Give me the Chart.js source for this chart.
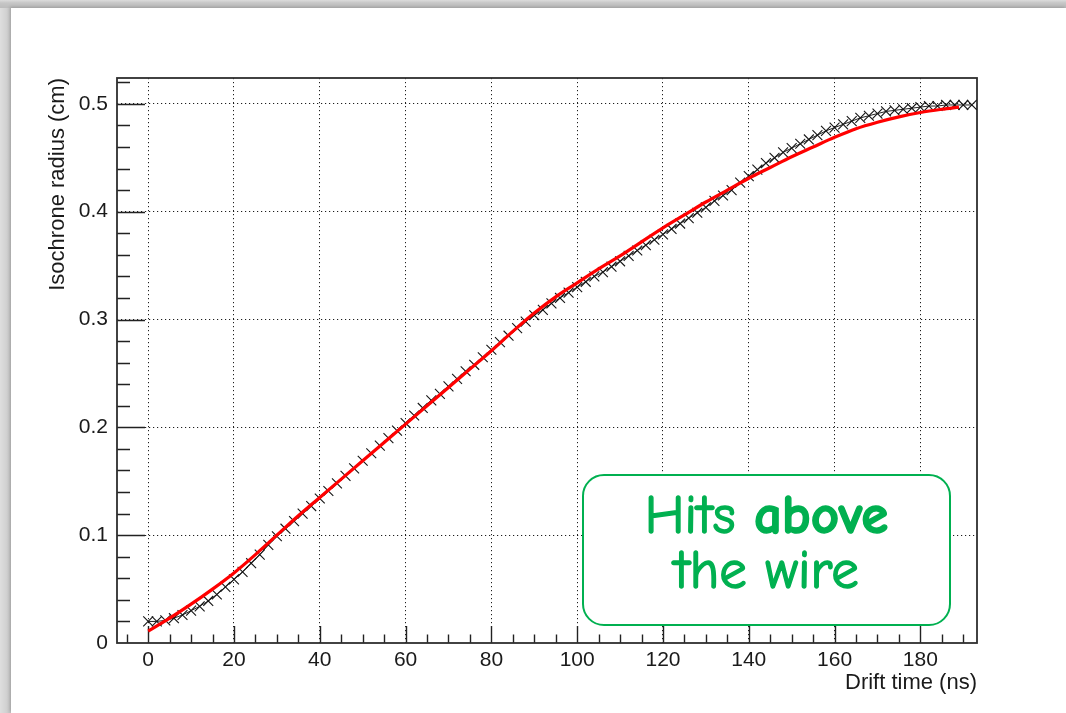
<!DOCTYPE html>
<html>
<head>
<meta charset="utf-8">
<title>Isochrone radius vs drift time</title>
<script src="https://cdn.jsdelivr.net/npm/chart.js@4.4.1/dist/chart.umd.min.js"></script>
<style>
  html, body { margin: 0; padding: 0; width: 1066px; height: 713px; overflow: hidden; }
  body { position: relative; background: linear-gradient(to right, #dedede 0px, #d2d2d2 6px, #c2c2c2 11px); }
  #topband { position: absolute; left: 0; top: 0; width: 1066px; height: 8px;
             background: linear-gradient(to bottom, #dcdcdc 0px, #c6c6c6 3px, #bcbcbc 8px); }
  #sheet { position: absolute; left: 11px; top: 8px; right: 0; bottom: 0; background: #ffffff;
           box-shadow: -1px -1px 3px rgba(0,0,0,0.18); }
  #plot { position: absolute; left: 0; top: 0; }
  #note { position: absolute; left: 582px; top: 474px; width: 369px; height: 152px;
          box-sizing: border-box; border: 2.5px solid #00b050; border-radius: 22px; background: #ffffff;
          color: #00b050; text-align: center; font-family: "Comic Sans MS", "Comic Neue", Lato, sans-serif;
          font-size: 55px; line-height: 55px; padding-top: 12px;
          -webkit-text-stroke: 1.4px #00b050; }
  #note b { font-weight: 700; }
</style>
</head>
<body>
<div id="topband"></div>
<div id="sheet"></div>
<canvas id="plot" width="1066" height="713"></canvas>
<div id="note">Hits <b>above</b><br>the wire</div>
<script>
// Measured isochrone radius per drift-time bin (ns, cm)
const driftTime = [
  0, 2, 4, 6, 8, 10, 12, 14, 16, 18, 20, 22, 24, 26, 28, 30, 32, 34, 36, 38,
  40, 42, 44, 46, 48, 50, 52, 54, 56, 58, 60, 62, 64, 66, 68, 70, 72, 74, 76, 78,
  80, 82, 84, 86, 88, 90, 92, 94, 96, 98, 100, 102, 104, 106, 108, 110, 112, 114, 116, 118,
  120, 122, 124, 126, 128, 130, 132, 134, 136, 138, 140, 142, 144, 146, 148, 150, 152, 154, 156, 158,
  160, 162, 164, 166, 168, 170, 172, 174, 176, 178, 180, 182, 184, 186, 188, 190, 192
];
const isochroneRadius = [
  0.020, 0.020, 0.021, 0.023, 0.026, 0.030, 0.034, 0.039, 0.045, 0.052,
  0.059, 0.066, 0.074, 0.082, 0.091, 0.099, 0.106, 0.113, 0.120, 0.127,
  0.134, 0.141, 0.148, 0.155, 0.162, 0.169, 0.176, 0.183, 0.190, 0.197,
  0.204, 0.211, 0.218, 0.225, 0.231, 0.238, 0.245, 0.252, 0.258, 0.265,
  0.272, 0.279, 0.285, 0.292, 0.298, 0.304, 0.309, 0.315, 0.320, 0.325,
  0.330, 0.335, 0.340, 0.344, 0.349, 0.354, 0.359, 0.364, 0.369, 0.374,
  0.379, 0.384, 0.389, 0.394, 0.399, 0.404, 0.410, 0.415, 0.420, 0.427,
  0.433, 0.439, 0.445, 0.450, 0.455, 0.459, 0.463, 0.467, 0.471, 0.475,
  0.478, 0.481, 0.484, 0.487, 0.489, 0.491, 0.493, 0.494, 0.495, 0.496,
  0.497, 0.498, 0.498, 0.499, 0.499, 0.499, 0.499
];

// Fitted r(t) relation
const fitTime = [0, 5, 10, 15, 20, 25, 30, 35, 40, 45, 50, 55, 60, 65, 70, 75, 80, 85, 90, 95,
  100, 105, 110, 115, 120, 125, 130, 135, 140, 145, 150, 155, 160, 165, 170, 175, 180, 185, 189];
const fitRadius = [0.011, 0.023, 0.036, 0.050, 0.065, 0.082, 0.100, 0.118, 0.135, 0.152,
  0.169, 0.186, 0.203, 0.220, 0.237, 0.254, 0.271, 0.289, 0.306, 0.321,
  0.334, 0.347, 0.359, 0.372, 0.385, 0.397, 0.409, 0.420, 0.431, 0.441,
  0.451, 0.460, 0.469, 0.477, 0.483, 0.488, 0.492, 0.495, 0.497];

// Axis ticks
const xTickValues = [0, 20, 40, 60, 80, 100, 120, 140, 160, 180];
const xTickLabels = ['0', '20', '40', '60', '80', '100', '120', '140', '160', '180'];
const xMinorTicks = [-5, 0, 5, 10, 15, 20, 25, 30, 35, 40, 45, 50, 55, 60, 65, 70, 75, 80, 85, 90, 95,
  100, 105, 110, 115, 120, 125, 130, 135, 140, 145, 150, 155, 160, 165, 170, 175, 180, 185, 190];
const yTickValues = [0, 0.1, 0.2, 0.3, 0.4, 0.5];
const yTickLabels = ['0', '0.1', '0.2', '0.3', '0.4', '0.5'];
const yMinorTicks = [0.02, 0.04, 0.06, 0.08, 0.1, 0.12, 0.14, 0.16, 0.18, 0.2, 0.22, 0.24, 0.26,
  0.28, 0.3, 0.32, 0.34, 0.36, 0.38, 0.4, 0.42, 0.44, 0.46, 0.48, 0.5, 0.52];

const FONT = '"Liberation Sans", Arial, Helvetica, sans-serif';
const INK = '#1a1a1a';
const GRID = '#1e1e1e';

const isMajor = (list, v) => list.some(m => Math.abs(m - v) < 1e-9);

// Frame with inward tick marks, drawn above the grid and beneath the data
const frameTicks = {
  id: 'frameTicks',
  beforeDatasetsDraw(chart) {
    const { ctx, chartArea: a, scales: { x, y } } = chart;
    ctx.save();
    ctx.strokeStyle = '#222222';
    ctx.lineWidth = 1.4;
    ctx.beginPath();
    xMinorTicks.forEach(v => {
      const px = Math.round(x.getPixelForValue(v)) + 0.5;
      const len = isMajor(xTickValues, v) ? 17 : 8.5;
      ctx.moveTo(px, a.bottom);
      ctx.lineTo(px, a.bottom - len);
    });
    yMinorTicks.forEach(v => {
      const py = Math.round(y.getPixelForValue(v)) + 0.5;
      const len = isMajor(yTickValues, v) ? 28 : 13;
      ctx.moveTo(a.left, py);
      ctx.lineTo(a.left + len, py);
    });
    ctx.stroke();
    ctx.lineWidth = 1.8;
    ctx.strokeStyle = '#2e2e2e';
    ctx.strokeRect(a.left, a.top, a.right - a.left, a.bottom - a.top);
    ctx.restore();
  }
};

new Chart(document.getElementById('plot'), {
  type: 'line',
  data: {
    datasets: [
      {
        label: 'fit',
        data: fitTime.map((t, i) => ({ x: t, y: fitRadius[i] })),
        borderColor: '#ff0000',
        borderWidth: 3.2,
        pointRadius: 0,
        cubicInterpolationMode: 'monotone',
        order: 0
      },
      {
        label: 'isochrone',
        data: driftTime.map((t, i) => ({ x: t, y: isochroneRadius[i] })),
        borderColor: '#222222',
        borderWidth: 1,
        pointStyle: 'crossRot',
        pointRadius: 7,
        pointBorderColor: '#151515',
        pointBorderWidth: 1.1,
        pointBackgroundColor: 'rgba(0,0,0,0)',
        order: 1
      }
    ]
  },
  options: {
    responsive: false,
    animation: false,
    devicePixelRatio: 1,
    events: [],
    layout: { padding: { left: 0, top: 78, right: 89, bottom: 0 } },
    plugins: { legend: { display: false }, tooltip: { enabled: false } },
    scales: {
      x: {
        type: 'linear',
        min: -7.27,
        max: 193.2,
        afterBuildTicks: s => { s.ticks = xTickValues.map(v => ({ value: v })); },
        afterFit: s => { s.height = 70; },
        grid: { color: GRID, lineWidth: 1, drawTicks: false },
        border: { display: false, dash: [1.2, 2.8] },
        ticks: {
          autoSkip: false, maxRotation: 0, padding: 5, color: INK,
          font: { family: FONT, size: 21 },
          callback: (v) => xTickLabels[xTickValues.indexOf(v)]
        },
        title: {
          display: true, text: 'Drift time (ns)', align: 'end', color: INK,
          font: { family: FONT, size: 22 }, padding: { top: 0, bottom: 17 }
        }
      },
      y: {
        type: 'linear',
        min: 0,
        max: 0.524,
        afterBuildTicks: s => { s.ticks = yTickValues.map(v => ({ value: v })); },
        afterFit: s => { s.width = 117; },
        grid: {
          color: c => (c.tick && c.tick.value === 0 ? 'rgba(0,0,0,0)' : GRID),
          lineWidth: 1, drawTicks: false
        },
        border: { display: false, dash: [1.2, 2.8] },
        ticks: {
          autoSkip: false, padding: 9, color: INK,
          font: { family: FONT, size: 21 },
          callback: (v) => yTickLabels[yTickValues.findIndex(m => Math.abs(m - v) < 1e-9)]
        },
        title: {
          display: true, text: 'Isochrone radius (cm)', align: 'end', color: INK,
          font: { family: FONT, size: 22 }, padding: { top: 45, bottom: 0 }
        }
      }
    }
  },
  plugins: [frameTicks]
});
</script>
</body>
</html>
